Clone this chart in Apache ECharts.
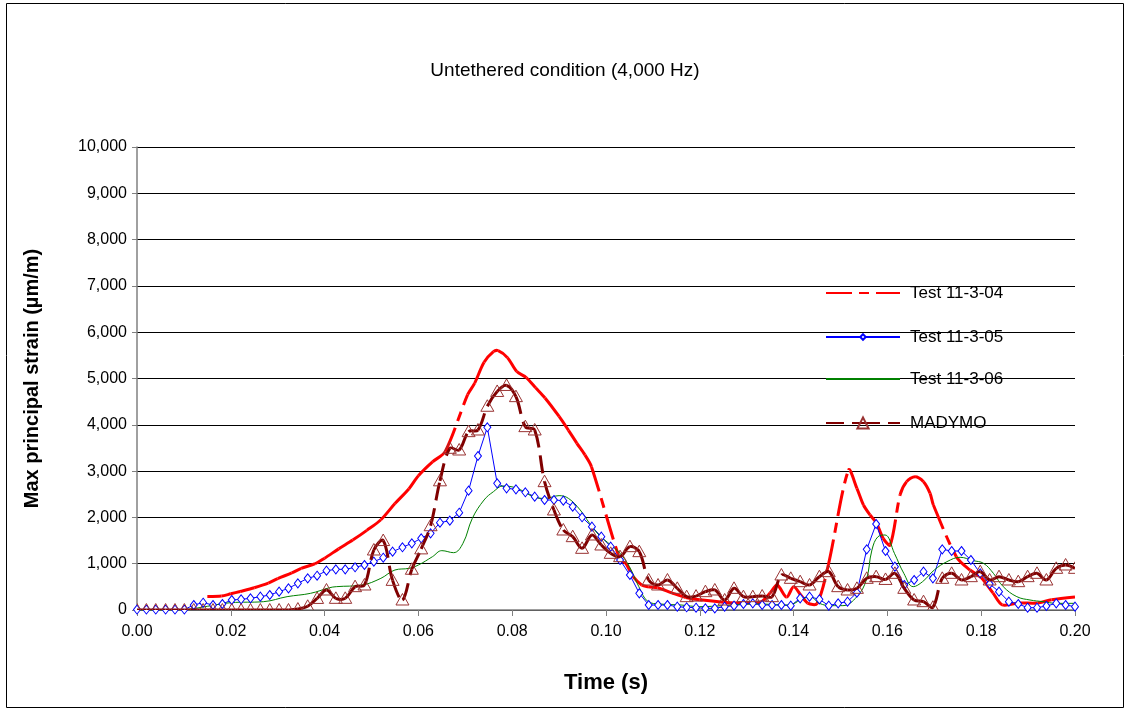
<!DOCTYPE html>
<html>
<head>
<meta charset="utf-8">
<script src="https://cdn.jsdelivr.net/npm/echarts@6/dist/echarts.min.js"></script>
<style>
    html, body {margin: 0; padding: 0; background: #fff;}
    #chart {width: 1130px; height: 711px;}
</style>
</head>
<body>
<div id="chart"></div>
<script>
// time of each marker sample (Test 11-3-05 and MADYMO share them)
var sampleTimes = [0, 0.0020, 0.0040, 0.0061, 0.0081, 0.0101, 0.0121, 0.0141, 0.0162, 0.0182,
    0.0202, 0.0222, 0.0242, 0.0263, 0.0283, 0.0303, 0.0323, 0.0343, 0.0364, 0.0384,
    0.0404, 0.0424, 0.0444, 0.0465, 0.0485, 0.0505, 0.0525, 0.0545, 0.0566, 0.0586,
    0.0606, 0.0626, 0.0646, 0.0667, 0.0687, 0.0707, 0.0727, 0.0747, 0.0768, 0.0788,
    0.0808, 0.0828, 0.0848, 0.0869, 0.0889, 0.0909, 0.0929, 0.0949, 0.0970, 0.0990,
    0.1010, 0.1030, 0.1051, 0.1071, 0.1091, 0.1111, 0.1131, 0.1152, 0.1172, 0.1192,
    0.1212, 0.1232, 0.1253, 0.1273, 0.1293, 0.1313, 0.1333, 0.1354, 0.1374, 0.1394,
    0.1414, 0.1434, 0.1455, 0.1475, 0.1495, 0.1515, 0.1535, 0.1556, 0.1576, 0.1596,
    0.1616, 0.1636, 0.1657, 0.1677, 0.1697, 0.1717, 0.1737, 0.1758, 0.1778, 0.1798,
    0.1818, 0.1838, 0.1859, 0.1879, 0.1899, 0.1919, 0.1939, 0.1960, 0.1980, 0.2000];

var test05 = [10, 10, 10, 10, 10, 10, 108, 158, 108, 130,
    216, 230, 252, 288, 324, 396, 468, 576, 684, 741,
    850, 878, 878, 922, 972, 1044, 1130, 1260, 1354, 1440,
    1548, 1656, 1886, 1930, 2102, 2578, 3326, 3946, 2736, 2628,
    2606, 2542, 2448, 2376, 2376, 2362, 2232, 2002, 1800, 1584,
    1368, 1080, 756, 360, 108, 108, 108, 72, 58, 50,
    36, 36, 72, 94, 130, 144, 108, 108, 108, 94,
    252, 288, 230, 94, 144, 180, 374, 1310, 1858, 1274,
    936, 540, 648, 828, 684, 1310, 1274, 1274, 1080, 792,
    562, 396, 180, 130, 50, 50, 86, 144, 108, 72];

var madymo = [0, 0, 0, 0, 0, 0, 0, 0, 0, 0,
    0, 0, 0, 0, 0, 0, 0, 20, 80, 250,
    432, 252, 252, 504, 540, 1296, 1500, 640, 216, 880,
    1320, 1820, 2790, 3492, 3456, 3852, 3888, 4400, 4720, 4850,
    4608, 3960, 3888, 2772, 2160, 1728, 1584, 1332, 1620, 1404,
    1224, 1152, 1368, 1260, 648, 540, 648, 468, 288, 300,
    396, 432, 216, 468, 288, 288, 302, 288, 756, 684,
    612, 540, 720, 828, 504, 432, 468, 684, 720, 660,
    792, 468, 216, 180, 60, 684, 792, 648, 720, 828,
    648, 720, 648, 612, 720, 792, 648, 900, 972, 900];

var test04Times = [0.015, 0.018, 0.020, 0.022, 0.025, 0.028, 0.030, 0.033, 0.035, 0.038,
    0.040, 0.043, 0.046, 0.049, 0.052, 0.055, 0.058, 0.060, 0.063, 0.0657,
    0.0705, 0.072, 0.074, 0.076, 0.077, 0.079, 0.081, 0.083, 0.085, 0.087,
    0.090, 0.092, 0.0938, 0.0955, 0.0969, 0.1030, 0.1042, 0.1058, 0.1076, 0.109,
    0.111, 0.114, 0.117, 0.120, 0.125, 0.130, 0.133, 0.135, 0.1365, 0.1385,
    0.140, 0.1415, 0.143, 0.145, 0.1474, 0.1517, 0.1535, 0.1549, 0.1563, 0.1577,
    0.1591, 0.1606, 0.1627, 0.1641, 0.1659, 0.1677, 0.1691, 0.1698, 0.1747, 0.1776,
    0.180, 0.1825, 0.1845, 0.188, 0.192, 0.195, 0.200];
var test04 = [290, 300, 350, 400, 480, 580, 680, 800, 900, 1000,
    1120, 1320, 1510, 1720, 1950, 2300, 2620, 2900, 3200, 3420,
    4650, 4900, 5350, 5580, 5600, 5450, 5150, 5020, 4800, 4580,
    4180, 3880, 3600, 3350, 3096, 1080, 1010, 720, 540, 500,
    480, 370, 270, 220, 170, 150, 170, 370, 540, 280,
    500, 330, 150, 140, 972, 3024, 2628, 2268, 2052, 1872,
    1548, 1404, 2484, 2772, 2880, 2772, 2520, 2268, 1152, 864,
    700, 370, 110, 150, 150, 220, 280];

var test06Times = [0, 0.010, 0.015, 0.020, 0.027, 0.032, 0.037, 0.041, 0.0425, 0.048,
    0.052, 0.055, 0.058, 0.060, 0.063, 0.065, 0.0675, 0.0695, 0.0715, 0.074,
    0.076, 0.078, 0.081, 0.0845, 0.087, 0.090, 0.092, 0.0945, 0.0965, 0.0985,
    0.101, 0.103, 0.105, 0.107, 0.109, 0.1115, 0.116, 0.120, 0.125, 0.132,
    0.139, 0.1415, 0.1435, 0.1455, 0.148, 0.1505, 0.1535, 0.1555, 0.1567, 0.158,
    0.1595, 0.1615, 0.1635, 0.1655, 0.1675, 0.170, 0.1727, 0.1755, 0.1783, 0.1805,
    0.1826, 0.1847, 0.1876, 0.1904, 0.1932, 0.196, 0.200];
var test06 = [0, 10, 80, 158, 180, 288, 360, 480, 504, 540,
    684, 864, 900, 972, 1152, 1282, 1238, 1440, 1980, 2376,
    2556, 2678, 2630, 2448, 2410, 2470, 2410, 2160, 1872, 1620,
    1404, 1224, 936, 504, 180, 130, 108, 72, 94, 130,
    108, 216, 288, 144, 94, 94, 288, 648, 1296, 1584,
    1620, 1224, 792, 504, 612, 864, 1044, 1138, 1066, 1008,
    792, 504, 288, 216, 180, 144, 144];

var seriesNames = ['Test 11-3-04', 'Test 11-3-05', 'Test 11-3-06', 'MADYMO'];

var font = 'Liberation Sans, Arial, sans-serif';
var RED_DASH = [26, 7, 10, 7];
var MADYMO_DASH = [18, 8];

function pairs(times, values) {
    return times.map(function (t, i) { return [t, values[i]]; });
}

function dist(a, b) {
    return Math.sqrt((a[0] - b[0]) * (a[0] - b[0]) + (a[1] - b[1]) * (a[1] - b[1]));
}

// one smoothed piece from point i to i+1; each piece starts its own dash
// pattern, the way the original spreadsheet chart draws dashed lines
function segment(times, values, i, api, smooth, style) {
    var n = times.length;
    if (i >= n - 1) return null;
    var pt = function (k) { return api.coord([times[k], values[k]]); };
    var p1 = pt(i), p2 = pt(i + 1);
    var d12 = dist(p1, p2);
    var c1 = p1, c2 = p2;
    if (i > 0) {
        var p0 = pt(i - 1);
        var k1 = smooth * d12 / (dist(p0, p1) + d12 || 1);
        c1 = [p1[0] + (p2[0] - p0[0]) * k1, p1[1] + (p2[1] - p0[1]) * k1];
    }
    if (i + 2 < n) {
        var p3 = pt(i + 2);
        var k2 = smooth * d12 / (d12 + dist(p2, p3) || 1);
        c2 = [p2[0] - (p3[0] - p1[0]) * k2, p2[1] - (p3[1] - p1[1]) * k2];
    }
    return {
        type: 'bezierCurve',
        shape: {x1: p1[0], y1: p1[1], cpx1: c1[0], cpy1: c1[1], cpx2: c2[0], cpy2: c2[1], x2: p2[0], y2: p2[1]},
        style: style,
        silent: true
    };
}

var myChart = echarts.init(document.getElementById('chart'));

// one legend box per row so each row keeps its own marker size
function legendBox(name, centerY, h, hideSymbol) {
    var item = hideSymbol ? {name: name, itemStyle: {opacity: 0}} : {name: name};
    return {
        orient: 'vertical',
        left: 825,
        top: centerY - Math.max(h, 17) / 2,
        padding: 0,
        itemWidth: 74,
        itemHeight: h,
        selectedMode: false,
        textStyle: {fontFamily: font, fontSize: 17, color: '#000', padding: [0, 0, 0, 5]},
        data: [item]
    };
}

var option = {
    animation: false,
    backgroundColor: '#fff',
    textStyle: {fontFamily: font, color: '#000'},
    graphic: [{
        type: 'rect',
        shape: {x: 6.5, y: 3.5, width: 1117, height: 704},
        style: {fill: 'none', stroke: '#000', lineWidth: 1},
        silent: true
    }],
    title: {
        text: 'Untethered condition (4,000 Hz)',
        left: 'center',
        top: 56,
        textStyle: {fontFamily: font, fontSize: 19, fontWeight: 'normal', color: '#000'}
    },
    legend: [
        legendBox(seriesNames[0], 293, 14, true),
        legendBox(seriesNames[1], 337, 7, false),
        legendBox(seriesNames[2], 379, 14, true),
        legendBox(seriesNames[3], 423, 14, false)
    ],
    grid: {left: 137, right: 55, top: 147, bottom: 101},
    xAxis: {
        type: 'value',
        min: 0,
        max: 0.2,
        interval: 0.02,
        name: 'Time (s)',
        nameLocation: 'middle',
        nameGap: 62,
        nameTextStyle: {fontFamily: font, fontSize: 22, fontWeight: 'bold', color: '#000'},
        axisLine: {lineStyle: {color: '#808080', width: 1.5}},
        axisTick: {show: true, length: 6, lineStyle: {color: '#808080'}},
        axisLabel: {
            fontFamily: font, fontSize: 16, color: '#000', margin: 14,
            formatter: function (v) { return v.toFixed(2); }
        },
        splitLine: {show: false}
    },
    yAxis: {
        type: 'value',
        min: 0,
        max: 10000,
        interval: 1000,
        name: 'Max principal strain (µm/m)',
        nameLocation: 'middle',
        nameGap: 95,
        nameTextStyle: {fontFamily: font, fontSize: 20, fontWeight: 'bold', color: '#000'},
        axisLine: {show: true, lineStyle: {color: '#808080', width: 1.5}},
        axisTick: {show: true, length: 5, lineStyle: {color: '#808080'}},
        axisLabel: {
            fontFamily: font, fontSize: 16, color: '#000', margin: 10,
            formatter: function (v) { return v.toLocaleString('en-US'); }
        },
        splitLine: {lineStyle: {color: '#000', width: 1}}
    },
    series: [
        // legend entries for the two dashed curves (drawn by the custom series below)
        {
            name: seriesNames[0],
            type: 'line',
            symbol: 'none',
            itemStyle: {color: '#ff0000'},
            lineStyle: {color: '#ff0000', width: 3, type: RED_DASH},
            data: []
        },
        {
            name: seriesNames[3],
            type: 'line',
            symbol: 'triangle',
            itemStyle: {color: 'rgba(255,255,255,0)', borderColor: '#993333', borderWidth: 1},
            lineStyle: {color: '#800000', width: 3, type: [18, 8, 28, 8, 20]},
            data: []
        },
        {
            name: 'test04 curve',
            type: 'custom',
            clip: true,
            encode: {x: 0, y: 1},
            renderItem: function (params, api) {
                return segment(test04Times, test04, params.dataIndex, api, 0.3,
                    {fill: 'none', stroke: '#ff0000', lineWidth: 3, lineDash: RED_DASH});
            },
            data: pairs(test04Times, test04),
            z: 2
        },
        {
            name: seriesNames[1],
            type: 'line',
            symbol: 'diamond',
            symbolSize: [7, 9],
            itemStyle: {color: '#ffffff', borderColor: '#0000ff', borderWidth: 1},
            lineStyle: {color: '#0000ff', width: 1},
            data: pairs(sampleTimes, test05),
            z: 3
        },
        {
            name: seriesNames[2],
            type: 'line',
            smooth: 0.4,
            symbol: 'none',
            itemStyle: {color: '#008000'},
            lineStyle: {color: '#008000', width: 1},
            data: pairs(test06Times, test06),
            z: 3
        },
        {
            name: 'madymo curve',
            type: 'custom',
            clip: true,
            encode: {x: 0, y: 1},
            renderItem: function (params, api) {
                var i = params.dataIndex;
                var c = api.coord([sampleTimes[i], madymo[i]]);
                var children = [];
                var seg = segment(sampleTimes, madymo, i, api, 0.35,
                    {fill: 'none', stroke: '#800000', lineWidth: 3, lineDash: MADYMO_DASH});
                if (seg) children.push(seg);
                children.push({
                    type: 'polygon',
                    shape: {points: [[c[0], c[1] - 6.5], [c[0] + 6.5, c[1] + 5], [c[0] - 6.5, c[1] + 5]]},
                    style: {fill: 'none', stroke: '#993333', lineWidth: 1},
                    z2: 10
                });
                return {type: 'group', children: children};
            },
            data: pairs(sampleTimes, madymo),
            z: 4
        }
    ]
};

myChart.setOption(option);
</script>
</body>
</html>
